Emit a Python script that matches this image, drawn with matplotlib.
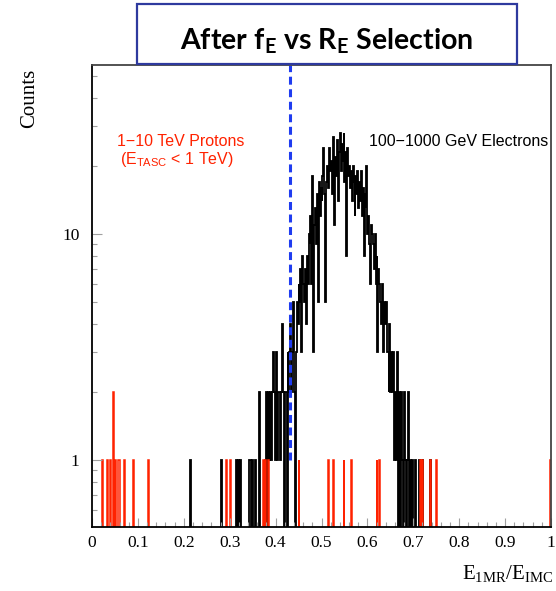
import numpy as np
import matplotlib
matplotlib.use("Agg")
import matplotlib.pyplot as plt
from matplotlib.patches import Rectangle
from matplotlib.ticker import FixedLocator, MultipleLocator, NullFormatter

plt.rcParams['mathtext.fontset'] = 'custom'
plt.rcParams['mathtext.rm'] = 'Liberation Serif'
plt.rcParams['mathtext.sf'] = 'Liberation Sans'
plt.rcParams['mathtext.bf'] = 'Lato:bold'

# binning (0.002 wide bins from 0 to 1)
n_bins = 500
bin_width = 0.002

# electrons: dense core, counts per bin starting at core_start
core_start = 0.384
core_counts = [
    2, 1, 2, 1, 2, 3, 2, 1, 3, 2,
    1, 2, 2, 1, 2, 4, 2, 0, 2, 2,
    0, 3, 2, 3, 4, 2, 3, 5, 2, 0,
    3, 5, 4, 6, 5, 7, 3, 8, 6, 5,
    7, 4, 8, 6, 10, 9, 12, 6, 18, 3,
    11, 13, 9, 15, 5, 17, 12, 16, 14, 18,
    24, 15, 5, 17, 20, 16, 24, 19, 21, 15,
    20, 27, 11, 22, 18, 26, 14, 23, 28, 19,
    25, 21, 28, 17, 23, 8, 24, 18, 20, 16,
    19, 14, 20, 17, 12, 18, 15, 19, 13, 17,
    14, 19, 12, 16, 8, 15, 13, 20, 10, 12,
    9, 6, 11, 10, 9, 7, 10, 6, 8, 3,
    7, 6, 5, 4, 6, 3, 5, 4, 5, 3,
    3, 2, 4, 2, 3, 2, 3, 1, 2, 1,
    3, 0, 2, 1, 0, 2, 1, 0, 2, 1,
    0, 1, 2, 0, 1, 1, 0, 1,
]
# electrons: isolated entries in the tails
electron_tail = [0.215, 0.280, 0.284, 0.314, 0.318, 0.322, 0.342, 0.345,
                 0.349, 0.357, 0.365, 0.365, 0.381, 0.381,
                 0.704, 0.712, 0.721, 0.736]
# protons: individual entries
proton_hits = [0.0225, 0.032, 0.041, 0.047, 0.047, 0.052, 0.056, 0.058,
               0.072, 0.090, 0.123, 0.292, 0.301, 0.373, 0.377, 0.384,
               0.451, 0.514, 0.527, 0.549, 0.566, 0.621, 0.627, 0.715,
               0.721, 0.736, 0.751, 0.999]

cut_value = 0.431
x_ticks = [0, 0.1, 0.2, 0.3, 0.4, 0.5, 0.6, 0.7, 0.8, 0.9, 1.0]
x_tick_labels = ['0', '0.1', '0.2', '0.3', '0.4', '0.5', '0.6', '0.7', '0.8', '0.9', '1']
y_ticks = [1, 10]
y_tick_labels = ['1', '10']

edges = np.linspace(0, 1, n_bins + 1)
elec = np.histogram(electron_tail, edges)[0].astype(float)
i0 = int(round(core_start / bin_width))
elec[i0:i0 + len(core_counts)] += np.array(core_counts)
prot = np.histogram(proton_hits, edges)[0].astype(float)

# empty bins drop off the bottom of the log axis
elec_plot = np.where(elec > 0, elec, 1e-3)
prot_plot = np.where(prot > 0, prot, 1e-3)

fig = plt.figure(figsize=(5.56, 5.91), dpi=100)
ax = fig.add_axes([92 / 556, 1 - 527 / 591, 459 / 556, 462 / 591])

ax.stairs(elec_plot, edges, baseline=None, color='black', lw=1.3)
ax.stairs(prot_plot, edges, baseline=None, color='#ff2200', lw=1.1)
ax.plot([cut_value, cut_value], [1, 56], color='#1f3cf0', lw=2.2,
        linestyle=(0, (2.6, 1.5)))

ax.set_xlim(0, 1)
ax.set_yscale('log')
ax.set_ylim(0.505, 56)

ax.xaxis.set_major_locator(FixedLocator(x_ticks))
ax.set_xticklabels(x_tick_labels)
ax.xaxis.set_minor_locator(MultipleLocator(0.02))
ax.yaxis.set_major_locator(FixedLocator(y_ticks))
ax.set_yticklabels(y_tick_labels)
ax.yaxis.set_minor_locator(FixedLocator([0.6, 0.7, 0.8, 0.9, 2, 3, 4, 5, 6, 7, 8, 9, 20, 30, 40, 50]))
ax.yaxis.set_minor_formatter(NullFormatter())

ax.tick_params(which='both', direction='in', color='#a0a0a0', width=0.8,
               labelsize=12.5, labelfontfamily='Liberation Serif')
ax.tick_params(axis='x', which='major', length=6.5, pad=5.5)
ax.tick_params(axis='x', which='minor', length=3.5)
ax.tick_params(axis='y', which='major', length=7, pad=9)
ax.tick_params(axis='y', which='minor', length=3.6)

for side in ['left', 'bottom']:
    ax.spines[side].set_color('black')
    ax.spines[side].set_linewidth(1.3)
for side in ['top', 'right']:
    ax.spines[side].set_color('#444444')
    ax.spines[side].set_linewidth(1.3)

ax.text(0.055, 0.835, '1\u221210 TeV Protons', transform=ax.transAxes,
        color='#ff2200', fontsize=11.5, family='Liberation Sans', va='center')
ax.text(0.060, 0.796, '(E$_{\\mathsf{TASC}}$ < 1 TeV)', transform=ax.transAxes,
        color='#ff2200', fontsize=11.5, family='Liberation Sans', va='center')
ax.text(0.603, 0.835, '100\u22121000 GeV Electrons', transform=ax.transAxes,
        color='black', fontsize=11.5, family='Liberation Sans', va='center')

fig.text(29.5 / 556, 1 - 98 / 591, 'Counts', rotation=90, ha='center',
         va='center', fontsize=15, family='Liberation Serif')
fig.text(553 / 556, 1 - 574 / 591, '$\\mathrm{E_{1MR}/E_{IMC}}$', ha='right',
         va='center', fontsize=15)

# title box
box = Rectangle((137 / 556, 1 - 64 / 591), 380 / 556, 60 / 591,
                transform=fig.transFigure, facecolor='white',
                edgecolor='#2e3a9e', lw=1.6, zorder=5)
fig.patches.append(box)
fig.text(327 / 556, 1 - 41 / 591,
         'After f$_{\\mathbf{E}}$ vs R$_{\\mathbf{E}}$ Selection',
         ha='center', va='center', fontsize=20.5, family='Lato',
         fontweight='bold', zorder=6)

fig.savefig('out.png', dpi=100)
